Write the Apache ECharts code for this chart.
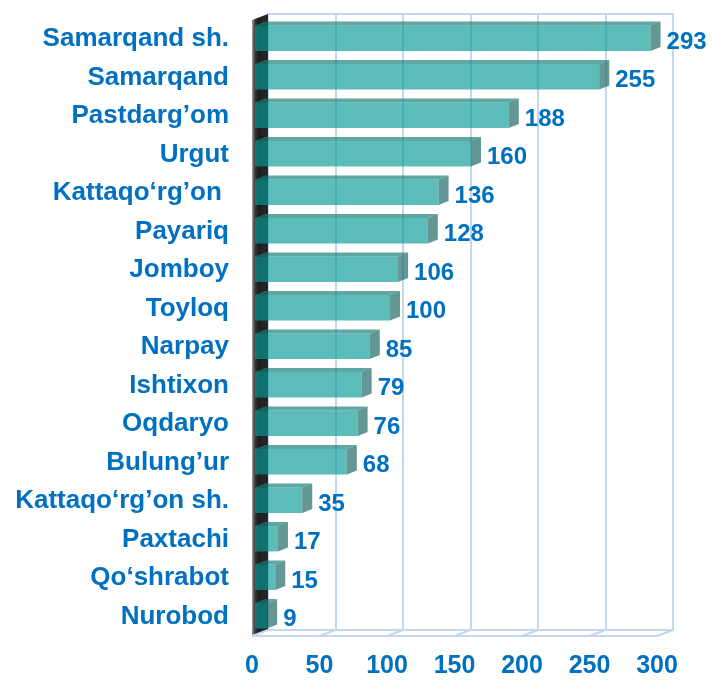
<!DOCTYPE html>
<html>
<head>
<meta charset="utf-8">
<script src="https://cdn.jsdelivr.net/npm/echarts@6/dist/echarts.min.js"></script>
<style>html,body{margin:0;padding:0;background:#fff}#c{width:712px;height:680px}</style>
</head>
<body>
<div id="c"></div>
<script>
const categories = ['Samarqand sh.','Samarqand','Pastdarg’om','Urgut','Kattaqo‘rg’on ','Payariq','Jomboy','Toyloq','Narpay','Ishtixon','Oqdaryo','Bulung’ur','Kattaqo‘rg’on sh.','Paxtachi','Qo‘shrabot','Nurobod'];
const values = [293,255,188,160,136,128,106,100,85,79,76,68,35,17,15,9];
const xTicks = [0,50,100,150,200,250,300];

const FONT = '"Liberation Sans", Arial, sans-serif';
const BLUE = '#0070C0';
const GRIDC = '#c3d8ef';
const DX = 16, DY = -6;

const chart = echarts.init(document.getElementById('c'), null, {renderer:'canvas'});

function wallItem(params, api){
  const cs = params.coordSys;
  const gx = cs.x, gy = cs.y, gw = cs.width, gh = cs.height;
  const children = [];
  children.push({
    type:'polygon',
    shape:{points:[[gx,gy],[gx+DX,gy+DY],[gx+DX,gy+gh+DY],[gx,gy+gh]]},
    style:{fill:new echarts.graphic.LinearGradient(0,0,1,0,[
      {offset:0,color:'#a0a0a0'},{offset:0.18,color:'#3a3a3a'},{offset:0.4,color:'#1e1e1e'},{offset:1,color:'#282828'}])}
  });
  // floor
  children.push({type:'line',shape:{x1:gx,y1:gy+gh,x2:gx+gw,y2:gy+gh},style:{stroke:GRIDC,lineWidth:2}});
  xTicks.forEach(t=>{
    const p = api.coord([t, categories.length-1]);
    const xt = p[0];
    children.push({type:'line',shape:{x1:xt,y1:gy+gh,x2:xt+DX,y2:gy+gh+DY},style:{stroke:GRIDC,lineWidth:2}});
  });
  return {type:'group',children};
}

function barItem(params, api){
  const idx = api.value(1);
  const v = api.value(0);
  const p0 = api.coord([0, idx]);
  const p1 = api.coord([v, idx]);
  const band = api.size([0,1])[1];
  const h = band*0.66;
  const cy = p0[1] - 1;
  const left = p0[0]+3, right = p1[0]+3, top = cy-h/2, bottom = cy+h/2;
  const dx = 10, dy = -4;
  return {type:'group',children:[
    {type:'polygon',shape:{points:[[left,top],[right,top],[right+dx,top+dy],[left+dx,top+dy]]},
      style:{fill:'rgba(20,125,120,0.68)'}},
    {type:'rect',shape:{x:left,y:top,width:right-left,height:h},
      style:{fill:'rgba(8,153,149,0.66)'}},
    {type:'polygon',shape:{points:[[right,top],[right+dx,top+dy],[right+dx,bottom+dy],[right,bottom]]},
      style:{fill:'rgba(40,110,105,0.72)'}},
    {type:'text',style:{text:String(v),x:right+dx+6,y:p0[1]+3,fill:BLUE,
      font:'bold 24px '+FONT,verticalAlign:'middle',align:'left'}}
  ]};
}

chart.setOption({
  animation:false,
  grid:[
    {left:252,right:55,top:20,bottom:44},
    {left:268,right:39,top:14,bottom:50,show:true,borderColor:GRIDC,borderWidth:2}
  ],
  xAxis:[
    {gridIndex:0,type:'value',min:0,max:300,interval:50,
      axisLine:{show:false},axisTick:{show:false},splitLine:{show:false},
      axisLabel:{color:BLUE,fontFamily:FONT,fontWeight:'bold',fontSize:25,margin:18}},
    {gridIndex:1,type:'value',min:0,max:300,interval:50,
      axisLine:{show:false},axisTick:{show:false},axisLabel:{show:false},
      splitLine:{show:true,lineStyle:{color:GRIDC,width:2}}}
  ],
  yAxis:[
    {gridIndex:0,type:'category',data:categories,inverse:true,
      axisLine:{show:false},axisTick:{show:false},splitLine:{show:false},
      axisLabel:{color:BLUE,fontFamily:FONT,fontWeight:'bold',fontSize:26,margin:23,padding:[4,0,0,0]}},
    {gridIndex:1,type:'category',data:categories,inverse:true,show:false}
  ],
  series:[
    {type:'custom',xAxisIndex:0,yAxisIndex:0,z:3,renderItem:wallItem,data:[[0,0]],encode:{x:0,y:1},silent:true},
    {type:'custom',xAxisIndex:0,yAxisIndex:0,z:5,renderItem:barItem,
      data:values.map((v,i)=>[v,i]),encode:{x:0,y:1}}
  ]
});
</script>
</body>
</html>
